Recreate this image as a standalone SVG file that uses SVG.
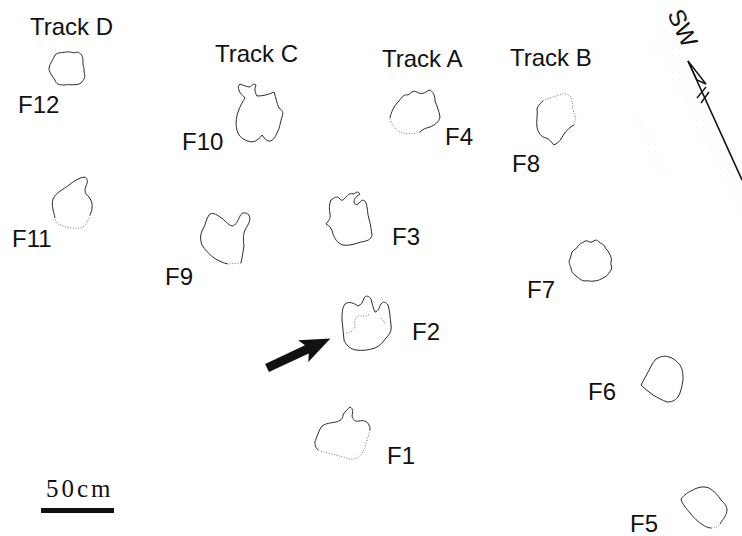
<svg xmlns="http://www.w3.org/2000/svg" width="742" height="536" viewBox="0 0 742 536">
  <defs>
    <style>
      .lbl { font-family: "Liberation Sans", Arial, sans-serif; font-size: 24px; fill: #111; }
      .fp { fill: none; stroke: #2a2a2a; stroke-width: 1; stroke-linejoin: round; }
      .dot { fill: none; stroke: #777; stroke-width: 1; stroke-dasharray: 1 1.6; }
      .scale { font-family: "Liberation Serif", "Times New Roman", serif; font-size: 25px; fill: #111; letter-spacing: 3px; }
    </style>
    <pattern id="stipple" width="6" height="6" patternUnits="userSpaceOnUse">
      <circle cx="1" cy="1" r="0.5" fill="#bbb"/>
      <circle cx="4" cy="4" r="0.5" fill="#ccc"/>
    </pattern>
  </defs>

  <rect width="742" height="536" fill="#fff"/>

  <!-- faint stippled ground near the north arrow -->
  <g opacity="0.4">
    <polygon points="650,40 672,34 742,170 742,215" fill="url(#stipple)"/>
    <polygon points="630,118 640,112 668,170 660,178" fill="url(#stipple)"/>
  </g>

  <!-- track titles -->
  <g id="track-labels">
    <text class="lbl" x="30" y="35">Track D</text>
    <text class="lbl" x="215" y="62">Track C</text>
    <text class="lbl" x="382" y="67">Track A</text>
    <text class="lbl" x="510" y="66">Track B</text>
  </g>

  <!-- footprints -->
  <g id="F12">
    <path class="fp" d="M55,55 C58,52 62,53 66,52 C70,51 73,54 77,52 C81,53 83,56 83,61 C82,65 85,68 84,72 C86,76 84,80 81,83 C76,86 70,84 64,85 C59,85 56,84 55,80 C52,76 49,72 49,68 C50,63 53,60 55,55 Z"/>
    <text class="lbl" x="18" y="113">F12</text>
  </g>

  <g id="F11">
    <path class="fp" d="M55,218 C54,212 51,206 53,199 C56,192 63,190 69,185 C74,181 79,178 84,177 C88,178 88,182 86,186 C84,191 85,194 89,197 C93,202 93,209 90,215"/>
    <path class="dot" d="M90,215 C88,221 86,227 80,228 C72,229 64,227 58,224 C56,222 55,220 55,218"/>
    <text class="lbl" x="12" y="247">F11</text>
  </g>

  <g id="F10">
    <path class="fp" d="M240,84 C243,85 247,87 250,87 C252,85 254,83 256,85 C255,88 254,91 257,96 C262,96 268,95 274,92 C276,98 277,104 279,108 C282,110 284,112 282,117 C280,123 280,128 277,133 C275,138 272,142 268,141 C265,140 263,136 262,135 C260,138 257,141 252,142 C246,141 241,139 238,133 C235,126 236,118 238,112 C240,106 243,101 245,98 C243,95 239,93 239,90 C238,88 238,85 240,84 Z"/>
    <text class="lbl" x="182" y="150">F10</text>
  </g>

  <g id="F9">
    <path class="fp" d="M228,264 C223,263 219,261 214,258 C209,254 205,250 202,245 C200,240 200,234 203,229 C206,224 206,219 209,215 C212,212 216,214 220,217 C225,220 228,225 232,226 C236,226 238,220 240,216 C242,212 246,212 249,215 C251,219 249,224 246,228 C243,233 243,240 244,246 C243,252 242,258 241,263"/>
    <path class="dot" d="M241,263 L228,264"/>
    <text class="lbl" x="165" y="285">F9</text>
  </g>

  <g id="F4">
    <path class="fp" d="M390,118 C391,112 394,106 399,101 C402,97 404,94 408,95 C411,93 413,90 417,92 C421,95 425,93 429,90 C433,91 435,95 435,101 C437,106 439,111 440,117 C439,122 435,125 430,127 C426,128 423,129 420,132"/>
    <path class="dot" d="M420,132 C414,134 405,135 398,131 C394,128 391,123 390,118"/>
    <text class="lbl" x="445" y="145">F4</text>
  </g>

  <g id="F8">
    <path class="dot" d="M543,101 C548,98 554,97 559,95 C563,93 568,94 571,97 C573,101 572,106 573,110 C574,114 577,117 575,121 C574,123 574,124 574,125"/>
    <path class="fp" d="M574,125 C570,127 567,130 564,134 C561,139 559,143 554,145 C551,142 550,139 546,138 C541,137 538,133 537,127 C536,121 538,114 537,109 C538,105 541,103 543,101"/>
    <text class="lbl" x="512" y="172">F8</text>
  </g>

  <g id="F3">
    <path class="fp" d="M331,200 C334,198 337,195 340,199 C342,202 344,199 346,197 C348,194 351,193 354,194 C356,192 358,191 360,194 C357,196 354,198 354,202 C355,205 357,206 360,202 C362,199 365,200 366,203 C368,208 367,213 369,219 C371,225 371,230 372,235 C371,240 367,241 361,242 C355,244 349,246 343,245 C337,243 335,239 333,234 C332,229 330,226 326,224 C328,221 331,219 330,214 C329,209 329,204 331,200 Z"/>
    <text class="lbl" x="392" y="245">F3</text>
  </g>

  <g id="F7">
    <path class="fp" d="M572,252 C574,249 577,249 578,246 C580,243 583,243 585,241 C588,240 589,243 592,242 C595,240 597,239 599,242 C601,244 604,244 605,247 C606,250 608,250 609,253 C611,256 612,259 611,262 C610,265 613,267 611,270 C609,273 608,275 605,277 C601,279 598,281 594,281 C591,282 588,280 585,281 C581,281 579,278 576,276 C573,274 571,271 571,268 C570,265 568,262 570,259 C571,257 571,254 572,252 Z"/>
    <text class="lbl" x="527" y="298">F7</text>
  </g>

  <g id="F2">
    <path class="fp" d="M345,304 C349,301 354,303 358,306 C361,305 363,302 364,298 C366,295 369,296 371,299 C372,303 373,308 375,312 C378,312 379,308 381,304 C383,301 386,302 388,305 C390,311 390,318 391,325 C392,331 389,335 386,338 C383,342 380,346 375,348 C369,350 362,351 356,350 C350,349 346,345 344,340 C343,333 343,327 342,320 C342,314 342,308 345,304 Z"/>
    <path class="dot" d="M346,333 C350,333 354,331 355,327 C354,322 355,318 358,316 C362,316 366,317 370,314"/>
    <path class="dot" d="M381,318 C383,320 385,322 384,324"/>
    <text class="lbl" x="412" y="340">F2</text>
  </g>

  <g id="F6">
    <path class="fp" d="M656,359 C660,357 664,355 669,357 C673,358 677,361 680,365 C683,370 683,375 683,380 C682,386 681,392 678,397 C675,401 671,402 667,402 C662,400 658,398 653,395 C649,392 645,389 641,385 C643,381 645,378 647,374 C650,369 652,363 656,359 Z"/>
    <text class="lbl" x="588" y="400">F6</text>
  </g>

  <g id="F1">
    <path class="fp" d="M318,450 C315,447 314,443 316,439 C318,434 319,430 322,426 C326,423 331,423 336,422 C340,421 343,419 343,415 C345,411 348,409 350,407 C353,408 353,412 352,416 C353,420 355,422 359,421 C363,420 367,421 369,425 C370,427 370,429 370,430"/>
    <path class="dot" d="M370,430 C368,437 366,444 364,450 C361,456 356,460 350,459 C343,457 336,455 328,453 C324,452 320,451 318,450"/>
    <text class="lbl" x="387" y="464">F1</text>
  </g>

  <g id="F5">
    <path class="fp" d="M720,524 C723,519 727,515 727,510 C727,506 724,503 721,500 C718,495 714,491 709,488 C704,486 698,487 693,490 C688,492 684,495 681,499 C682,504 686,508 690,513 C694,518 698,522 703,525 C706,527 709,528 711,528"/>
    <path class="dot" d="M711,528 C715,528 718,527 720,524"/>
    <text class="lbl" x="630" y="532">F5</text>
  </g>

  <!-- connectors: direction arrow towards F2 and the SW north line -->
  <g id="connectors">
    <polygon points="0,-4.5 44,-4.5 40,-12 70,0 40,12 44,4.5 0,4.5" fill="#111" transform="translate(267,368) rotate(-25)"/>
    <line x1="688" y1="61" x2="742" y2="180" stroke="#111" stroke-width="1.6"/>
    <path d="M688,61 L706,84 L697,80 Z" fill="none" stroke="#111" stroke-width="1.4" stroke-linejoin="miter"/>
    <line x1="697" y1="98" x2="706" y2="87" stroke="#111" stroke-width="1.4"/>
    <line x1="701" y1="103" x2="709" y2="92" stroke="#111" stroke-width="1.4"/>
    <text class="lbl" x="0" y="0" transform="translate(667,14) rotate(65)">SW</text>
  </g>

  <!-- scale bar -->
  <g id="scale-bar">
    <text class="scale" x="46" y="497">50cm</text>
    <rect x="41" y="508" width="73" height="5" fill="#111"/>
  </g>
</svg>
